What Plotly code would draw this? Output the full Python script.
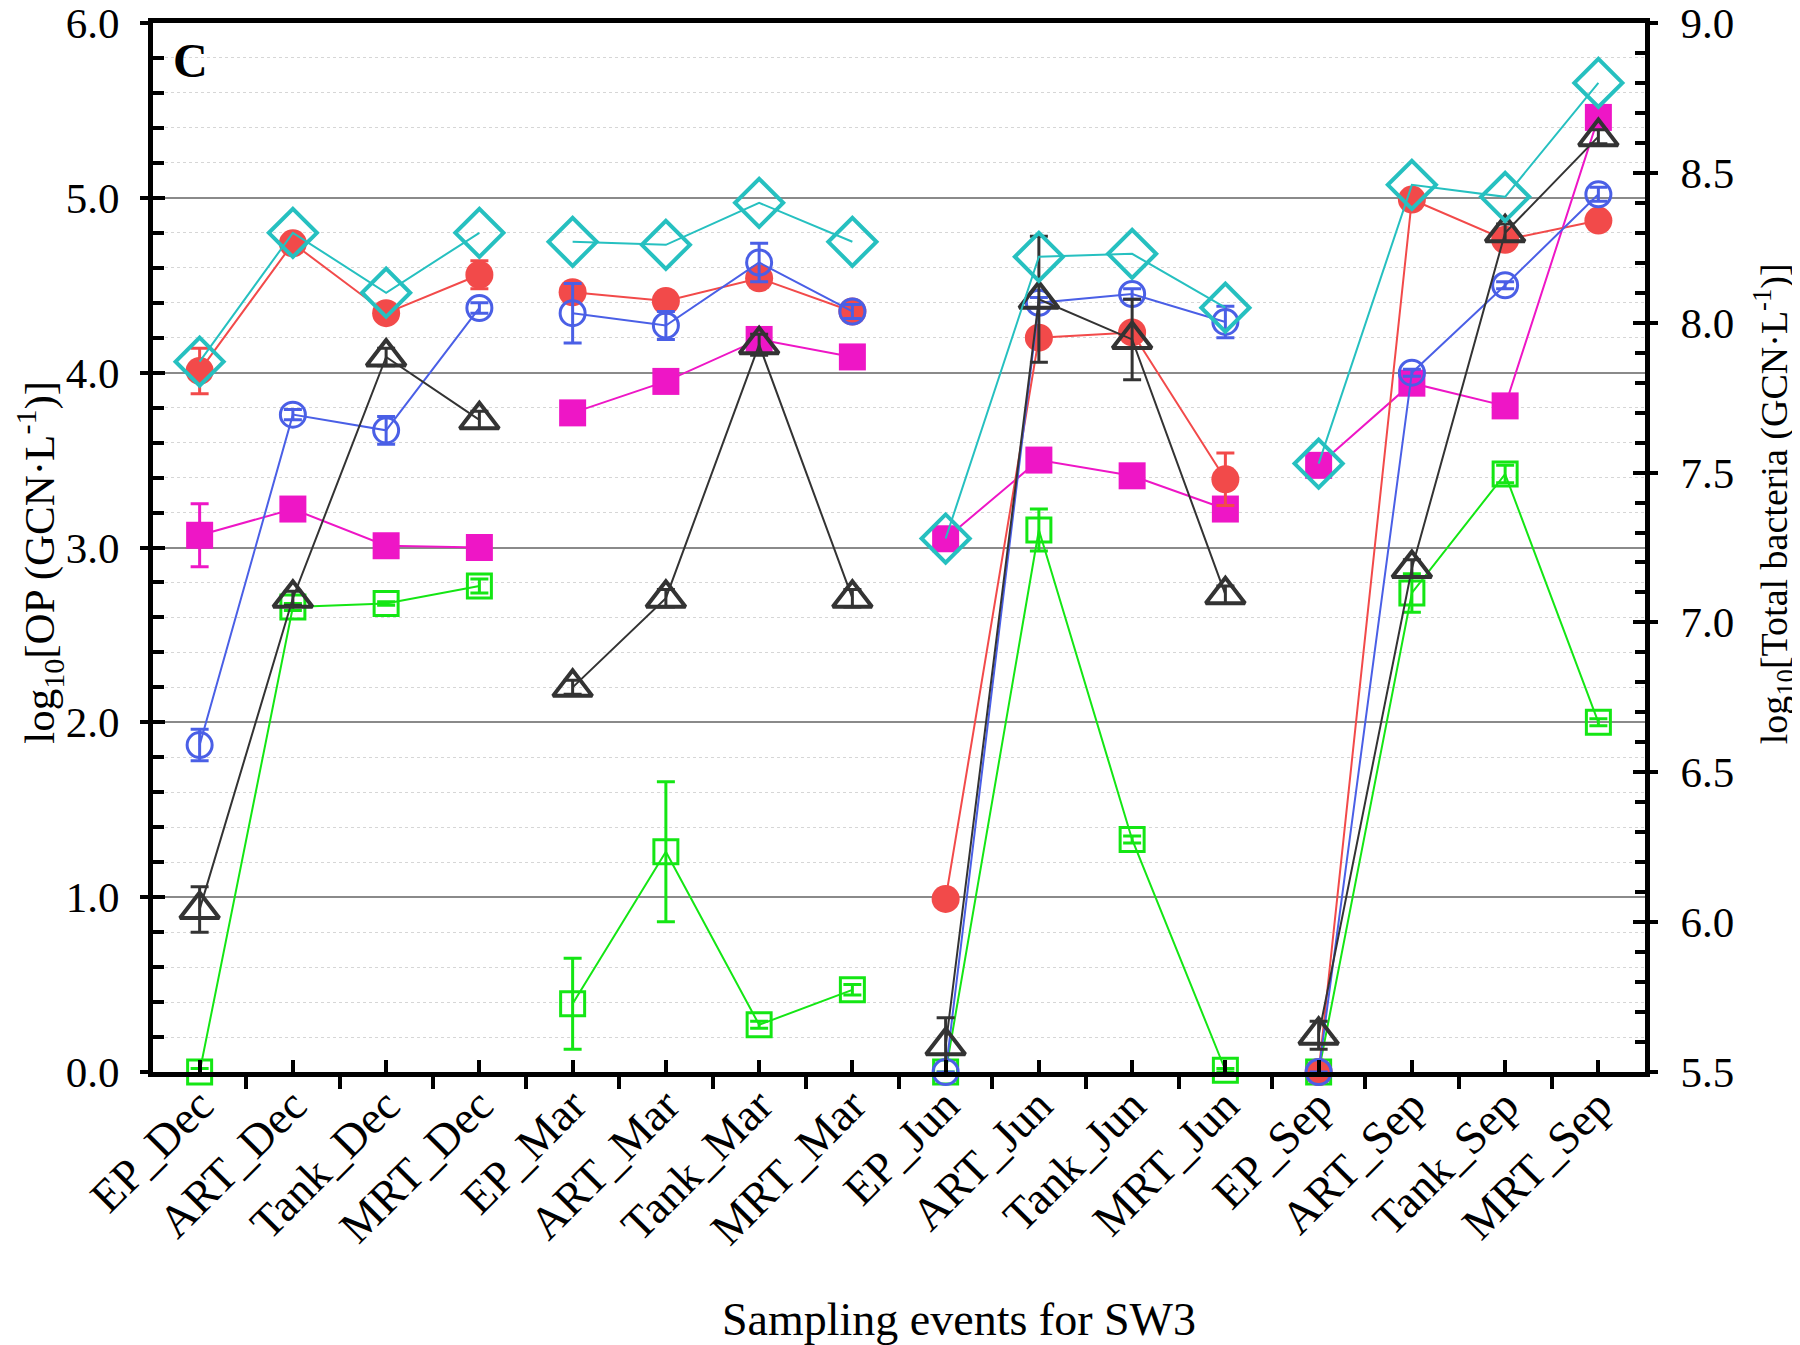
import plotly.graph_objects as go

# categorias do eixo x
events = ["EP_Dec", "ART_Dec", "Tank_Dec", "MRT_Dec",
          "EP_Mar", "ART_Mar", "Tank_Mar", "MRT_Mar",
          "EP_Jun", "ART_Jun", "Tank_Jun", "MRT_Jun",
          "EP_Sep", "ART_Sep", "Tank_Sep", "MRT_Sep"]
season_size = 4

# eixo esquerdo: log10 OP (GCN/L)
red_vals = [4.01, 4.74, 4.34, 4.56, 4.46, 4.41, 4.54, 4.35,
            0.99, 4.20, 4.23, 3.39, 0.00, 4.99, 4.76, 4.87]
red_err = [0.13, 0.03, 0.02, 0.08, 0.02, 0.02, 0.03, 0.02,
           0.00, 0.03, 0.04, 0.15, 0.00, 0.02, 0.03, 0.02]

blue_vals = [1.87, 3.76, 3.67, 4.37, 4.34, 4.27, 4.63, 4.35,
             0.00, 4.40, 4.45, 4.29, 0.00, 4.00, 4.50, 5.02]
blue_err = [0.09, 0.03, 0.08, 0.03, 0.17, 0.08, 0.11, 0.04,
            0.00, 0.03, 0.03, 0.09, 0.00, 0.02, 0.02, 0.04]

magenta_vals = [3.07, 3.22, 3.01, 3.00, 3.77, 3.95, 4.19, 4.09,
                3.05, 3.50, 3.41, 3.22, 3.47, 3.94, 3.81, 5.46]
magenta_err = [0.18, 0.05, 0.02, 0.03, 0.02, 0.02, 0.02, 0.02,
               0.02, 0.02, 0.02, 0.02, 0.02, 0.02, 0.02, 0.02]

black_vals = [0.93, 2.71, 4.09, 3.73, 2.20, 2.71, 4.16, 2.71,
              0.15, 4.42, 4.19, 2.73, 0.21, 2.88, 4.80, 5.35]
black_err = [0.13, 0.04, 0.05, 0.05, 0.04, 0.05, 0.06, 0.05,
             0.16, 0.36, 0.23, 0.05, 0.08, 0.05, 0.05, 0.04]

green_vals = [0.00, 2.66, 2.68, 2.78, 0.39, 1.26, 0.27, 0.47,
              0.00, 3.10, 1.33, 0.01, 0.00, 2.74, 3.42, 2.00]
green_err = [0.02, 0.02, 0.01, 0.04, 0.26, 0.40, 0.02, 0.03,
             0.00, 0.12, 0.02, 0.01, 0.00, 0.11, 0.05, 0.02]

# eixo direito: log10 bactérias totais (GCN/L)
cyan_vals = [7.87, 8.30, 8.10, 8.30, 8.27, 8.26, 8.40, 8.27,
             7.28, 8.22, 8.23, 8.05, 7.53, 8.46, 8.42, 8.80]

left_ticks = [0, 1, 2, 3, 4, 5, 6]
right_ticks = [5.5, 6.0, 6.5, 7.0, 7.5, 8.0, 8.5, 9.0]

FONT = "Liberation Serif"


def with_gaps(vals):
    """Insere None entre as estações para quebrar a linha"""
    out = []
    for i, v in enumerate(vals):
        if i > 0 and i % season_size == 0:
            out.append(None)
        out.append(v)
    return out


x_idx = with_gaps(list(range(len(events))))

fig = go.Figure()


def add_series(vals, err, color, symbol, size, filled, yaxis="y", line_w=3):
    marker = dict(symbol=symbol, size=size, color=color,
                  line=dict(color=color, width=0 if filled else line_w))
    tr = go.Scatter(x=x_idx, y=with_gaps(vals), mode="lines+markers",
                    line=dict(color=color, width=2), marker=marker,
                    yaxis=yaxis, showlegend=False, cliponaxis=False)
    if err is not None:
        tr.error_y = dict(type="data", array=with_gaps(err), visible=True,
                          color=color, thickness=3, width=9)
    fig.add_trace(tr)


add_series(green_vals, green_err, "#14e614", "square-open", 24, False)
add_series(magenta_vals, magenta_err, "#ee16c6", "square", 27, True)
add_series(red_vals, red_err, "#f24a4a", "circle", 28, True)
add_series(blue_vals, blue_err, "#4a5fe6", "circle-open", 25, False)
add_series(cyan_vals, None, "#26c0c0", "diamond-open", 37, False, yaxis="y2", line_w=4)
add_series(black_vals, black_err, "#333333", "triangle-up-open", 34, False, line_w=4)

# eixos auxiliares só para a parte externa dos ticks maiores
fig.add_trace(go.Scatter(x=[None], y=[None], yaxis="y3", showlegend=False))
fig.add_trace(go.Scatter(x=[None], y=[None], yaxis="y4", showlegend=False))

fig.update_layout(
    width=1800, height=1345,
    margin=dict(l=145, r=163, t=15, b=281),
    plot_bgcolor="white", paper_bgcolor="white",
    font=dict(family=FONT, color="black", size=44),
    xaxis=dict(
        range=[-0.5, 15.5], tickmode="array", tickvals=list(range(len(events))),
        ticktext=events, tickangle=-45, tickfont=dict(family=FONT, size=46),
        ticks="inside", ticklen=12, tickwidth=4, tickcolor="black",
        minor=dict(tickvals=[i - 0.5 for i in range(len(events) + 1)],
                   ticks="outside", ticklen=12, tickwidth=4, tickcolor="black",
                   showgrid=False),
        showline=True, linewidth=5, linecolor="black", mirror=True,
        showgrid=False, zeroline=False, automargin=False,
        ticklabelstandoff=-17,
    ),
    yaxis=dict(
        range=[0, 6], tickmode="array", tickvals=left_ticks,
        ticktext=[f"{v:.1f}" for v in left_ticks],
        tickfont=dict(family=FONT, size=43), ticklabeloverflow="allow",
        ticks="inside", ticklen=12, tickwidth=4, tickcolor="black",
        minor=dict(dtick=0.2, ticks="inside", ticklen=11, tickwidth=4,
                   tickcolor="black", showgrid=True, gridcolor="#d6d6d6",
                   griddash="dot", gridwidth=1),
        showgrid=True, gridcolor="#8a8a8a", gridwidth=1.5,
        showline=True, linewidth=5, linecolor="black",
        zeroline=False, automargin=False, ticklabelstandoff=20,
    ),
    yaxis2=dict(
        range=[5.5, 9.0], overlaying="y", side="right", tickmode="array",
        tickvals=right_ticks, ticktext=[f"{v:.1f}" for v in right_ticks],
        tickfont=dict(family=FONT, size=43), ticklabeloverflow="allow",
        ticks="inside", ticklen=12, tickwidth=4, tickcolor="black",
        minor=dict(dtick=0.1, ticks="inside", ticklen=10, tickwidth=4,
                   tickcolor="black", showgrid=False),
        showgrid=False, showline=True, linewidth=5, linecolor="black",
        zeroline=False, automargin=False, ticklabelstandoff=22,
    ),
    yaxis3=dict(
        range=[0, 6], overlaying="y", side="left", tickvals=left_ticks,
        ticks="outside", ticklen=12, tickwidth=4, tickcolor="black",
        showticklabels=False, showgrid=False, zeroline=False, showline=False,
        automargin=False,
    ),
    yaxis4=dict(
        range=[5.5, 9.0], overlaying="y", side="right", tickvals=right_ticks,
        ticks="outside", ticklen=12, tickwidth=4, tickcolor="black",
        showticklabels=False, showgrid=False, zeroline=False, showline=False,
        automargin=False,
    ),
)

fig.add_annotation(text="<b>C</b>", xref="paper", yref="paper",
                   x=0.025, y=0.964, xanchor="center", yanchor="middle",
                   showarrow=False, font=dict(family=FONT, size=48))
fig.add_annotation(text="log<sub>10</sub>[OP (GCN·L<sup>-1</sup>)]",
                   xref="paper", yref="paper", x=-0.076, y=0.486,
                   xanchor="center", yanchor="middle",
                   textangle=-90, showarrow=False,
                   font=dict(family=FONT, size=43))
fig.add_annotation(text="log<sub>10</sub>[Total bacteria (GCN·L<sup>-1</sup>)]",
                   xref="paper", yref="paper", x=1.087, y=0.542,
                   xanchor="center", yanchor="middle",
                   textangle=-90, showarrow=False,
                   font=dict(family=FONT, size=38))
fig.add_annotation(text="Sampling events for SW3", xref="paper", yref="paper",
                   x=0.540, y=-0.236, xanchor="center", yanchor="middle",
                   showarrow=False, font=dict(family=FONT, size=46))

fig.write_html("out.html")
